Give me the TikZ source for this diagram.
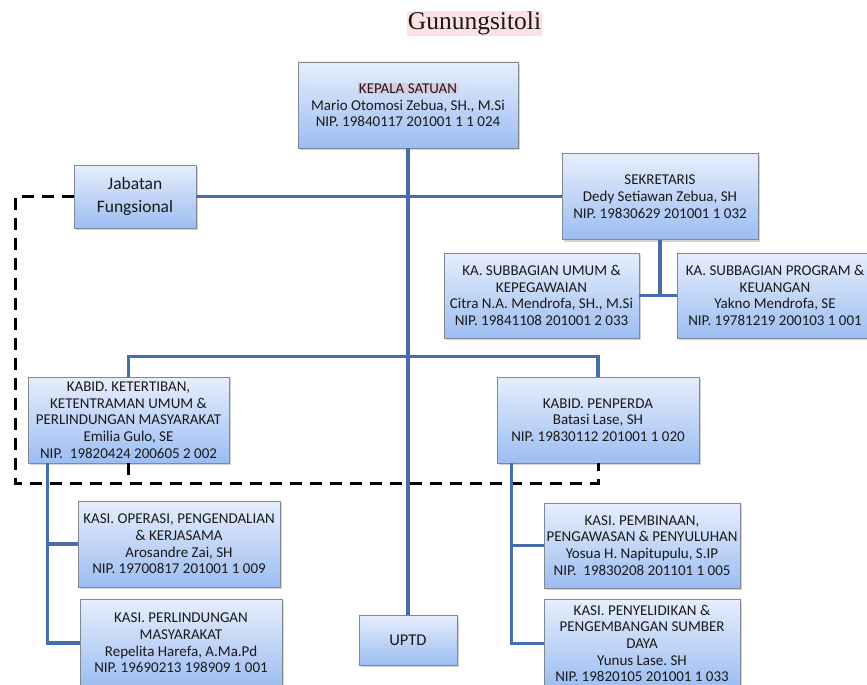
\documentclass[tikz,border=0pt]{standalone}
\usepackage{fontspec}
\setmainfont{Carlito}
\newfontfamily\titlefont{Liberation Serif}
\usetikzlibrary{shadows,calc,positioning}
\definecolor{boxtop}{RGB}{230,238,252}
\definecolor{boxbottom}{RGB}{156,189,242}
\definecolor{boxborder}{RGB}{128,136,146}
\definecolor{linkblue}{RGB}{68,110,168}
\definecolor{titlepink}{RGB}{252,226,226}
\definecolor{headpink}{RGB}{222,200,222}
\definecolor{inktext}{RGB}{25,25,25}
\setlength{\fboxsep}{0.5pt}
\frenchspacing

\begin{document}
\begin{tikzpicture}[x=1pt,y=-1pt]
    \tikzstyle{unit}=[draw=boxborder, line width=0.8pt, top color=boxtop, bottom color=boxbottom,
        drop shadow={shadow xshift=2pt,shadow yshift=-2pt,opacity=0.35},
        align=center, inner sep=1pt, text=inktext, font=\fontsize{15}{16.7}\selectfont]
    \tikzstyle{link}=[linkblue, line width=3.6pt]
    \tikzstyle{fungsional}=[black, line width=3pt, dash pattern=on 12pt off 8pt]

    % Page frame
    \useasboundingbox (0,0) rectangle (867,685);
    \clip (0,0) rectangle (867,685);

    % Title
    \node (judul)[fill=titlepink, inner sep=1pt, text=inktext,
        font=\titlefont\fontsize{25.5}{28}\selectfont] at (474.5,23.5) {Gunungsitoli};

    % Top level
    \node (kepala)[unit, minimum width=220, minimum height=86] at (408,105)
        {\colorbox{headpink}{KEPALA SATUAN}\\Mario Otomosi Zebua, SH., M.Si\\NIP. 19840117 201001 1 1 024};
    \node (jabfung)[unit, minimum width=122, minimum height=63,
        font=\fontsize{17.5}{23}\selectfont] at (135,196.5) {Jabatan\\Fungsional};
    \node (sekre)[unit, minimum width=196, minimum height=86] at (660,196.5)
        {SEKRETARIS\\Dedy Setiawan Zebua, SH\\NIP. 19830629 201001 1 032};

    % Subbagian
    \node (subumum)[unit, minimum width=195, minimum height=85] at (541.5,295.5)
        {KA. SUBBAGIAN UMUM \&\\KEPEGAWAIAN\\Citra N.A. Mendrofa, SH., M.Si\\NIP. 19841108 201001 2 033};
    \node (subprog)[unit, minimum width=196, minimum height=85] at (775,295.5)
        {KA. SUBBAGIAN PROGRAM \&\\KEUANGAN\\Yakno Mendrofa, SE\\NIP. 19781219 200103 1 001};

    % Kepala bidang
    \node (kabidtib)[unit, minimum width=201, minimum height=86] at (128.5,420)
        {KABID. KETERTIBAN,\\KETENTRAMAN UMUM \&\\PERLINDUNGAN MASYARAKAT\\Emilia Gulo, SE\\NIP.~~19820424 200605 2 002};
    \node (kabidpen)[unit, minimum width=202, minimum height=86] at (598,420)
        {KABID. PENPERDA\\Batasi Lase, SH\\NIP. 19830112 201001 1 020};

    % Kepala seksi
    \node (kasiops)[unit, minimum width=202, minimum height=86] at (179,544)
        {KASI. OPERASI, PENGENDALIAN\\\& KERJASAMA\\Arosandre Zai, SH\\NIP. 19700817 201001 1 009};
    \node (kasilin)[unit, minimum width=202, minimum height=88] at (181,643)
        {KASI. PERLINDUNGAN\\MASYARAKAT\\Repelita Harefa, A.Ma.Pd\\NIP. 19690213 198909 1 001};
    \node (uptd)[unit, minimum width=98, minimum height=50,
        font=\fontsize{16.5}{20}\selectfont] at (408,640) {UPTD};
    \node (kasibin)[unit, minimum width=196, minimum height=85] at (642,545.5)
        {KASI. PEMBINAAN,\\PENGAWASAN \& PENYULUHAN\\Yosua H. Napitupulu, S.IP\\NIP.~~19830208 201101 1 005};
    \node (kasisel)[unit, minimum width=196, minimum height=88] at (642,643.5)
        {KASI. PENYELIDIKAN \&\\PENGEMBANGAN SUMBER\\DAYA\\Yunus Lase. SH\\NIP. 19820105 201001 1 033};

    % Garis fungsional (dashed)
    \draw[fungsional] (jabfung.west) -| (15,483) -| (kabidpen.south);
    \draw[fungsional] (kabidtib.south) -- (kabidtib.south |- 0,483);

    % Garis komando
    \draw[link] (kepala.south) -- (uptd.north);
    \draw[link] (jabfung.east) -- (sekre.west);
    \draw[link] (sekre.south) -- (sekre.south |- subumum.east);
    \draw[link] (subumum.east) -- (subprog.west);
    \draw[link] (kabidtib.north) -- ++(0,-20) -| (kabidpen.north);

    % Seksi under each bidang
    \coordinate (spinekiri) at ($(kabidtib.south west)+(20,0)$);
    \coordinate (spinekanan) at ($(kabidpen.south west)+(15,0)$);
    \draw[link] (spinekiri) |- (kasilin.west);
    \draw[link] (spinekiri |- kasiops.west) -- (kasiops.west);
    \draw[link] (spinekanan) |- (kasisel.west);
    \draw[link] (spinekanan |- kasibin.west) -- (kasibin.west);
\end{tikzpicture}
\end{document}
